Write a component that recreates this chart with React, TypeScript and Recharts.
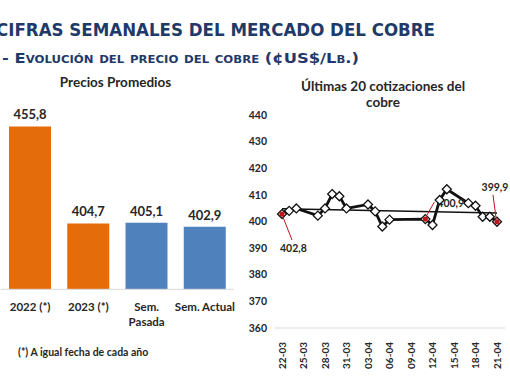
import React from "react";
import { BarChart, Bar, XAxis, YAxis, LabelList, Cell, LineChart, Line } from "recharts";

const barCategories = ["2022 (*)", "2023 (*)", "Sem.\nPasada", "Sem. Actual"];
const barValues = [455.8, 404.7, 405.1, 402.9];
const barColors = ["#E46C0A", "#E46C0A", "#4F81BD", "#4F81BD"];

const quoteDates = [
  "22-03", "23-03", "24-03", "27-03", "28-03", "29-03", "30-03", "31-03", "03-04", "04-04", "05-04",
  "06-04", "11-04", "12-04", "13-04", "14-04", "17-04", "18-04", "19-04", "20-04", "21-04",
];
const quoteValues = [
  402.8, 404.0, 404.9, 402.2, 404.9, 410.3, 409.5, 404.9, 406.4, 403.8, 398.1,
  400.7, 400.9, 398.7, 408.1, 412.1, 406.9, 405.9, 401.8, 401.8, 399.9,
];
const trendDates = ["22-03", "21-04"];
const trendValues = [404.8, 403.2];
const dateTicks = ["22-03", "25-03", "28-03", "31-03", "03-04", "06-04", "09-04", "12-04", "15-04", "18-04", "21-04"];
const priceTicks = [360, 370, 380, 390, 400, 410, 420, 430, 440];

const YEAR = 2023;
const toTime = (s: string) => {
  const [d, m] = s.split("-").map(Number);
  return Date.UTC(YEAR, m - 1, d);
};
const fmtDate = (t: number) => {
  const d = new Date(t);
  return String(d.getUTCDate()).padStart(2, "0") + "-" + String(d.getUTCMonth() + 1).padStart(2, "0");
};
const fmtNum = (v: number) => v.toFixed(1).replace(".", ",");

const NAVY = "#1F3A68";
const TXT = "#262626";
const FONT = "Lato, 'Open Sans', sans-serif";

const barData = barCategories.map((c, i) => ({ name: c, value: barValues[i] }));
const quoteData = quoteDates.map((d, i) => ({ t: toTime(d), v: quoteValues[i] }));
const trendData = trendDates.map((d, i) => ({ t: toTime(d), v: trendValues[i] }));

// callouts on a few points: leader line + value text
const callouts: Record<number, { x1: number; y1: number; x2: number; y2: number; lx: number; ly: number; anchor: string }> = {
  0: { x1: 1, y1: 3, x2: 10, y2: 26, lx: -2, ly: 38, anchor: "start" },
  12: { x1: 1, y1: -3, x2: 9, y2: -17, lx: 12, ly: -12, anchor: "start" },
  20: { x1: -1, y1: -4, x2: -4, y2: -27, lx: -2, ly: -31, anchor: "middle" },
};

const CatTick = (props: any) => {
  const { x, y, payload } = props;
  const lines = String(payload.value).split("\n");
  return (
    <g>
      {lines.map((l, i) => (
        <text key={i} x={x} y={y + 14 + i * 15} textAnchor="middle" fontFamily={FONT} fontWeight={700} fontSize={11.5} fill={TXT}>
          {l}
        </text>
      ))}
    </g>
  );
};

const DateTick = (props: any) => {
  const { x, y, payload } = props;
  return (
    <text x={x} y={y} transform={`rotate(-90 ${x} ${y})`} dx={-6} dy={3.5} textAnchor="end" fontFamily={FONT} fontWeight={700} fontSize={10} fill={TXT}>
      {fmtDate(payload.value)}
    </text>
  );
};

const Diamond = (props: any) => {
  const { cx, cy, index, value } = props;
  const r = 4.5;
  const c = callouts[index];
  const v = Array.isArray(value) ? value[1] : value;
  return (
    <g key={`d${index}`}>
      <path d={`M${cx},${cy - r}L${cx + r},${cy}L${cx},${cy + r}L${cx - r},${cy}Z`} fill="#fff" stroke="#111" strokeWidth={1.3} />
      {c && (
        <>
          <circle cx={cx} cy={cy} r={2.6} fill="#C0141E" />
          <line x1={cx + c.x1} y1={cy + c.y1} x2={cx + c.x2} y2={cy + c.y2} stroke="#C0141E" strokeWidth={1} />
          <text x={cx + c.lx} y={cy + c.ly} textAnchor={c.anchor as any} fontFamily={FONT} fontWeight={700} fontSize={10.5} fill={TXT}>
            {fmtNum(v)}
          </text>
        </>
      )}
    </g>
  );
};

export default function App() {
  return (
    <div style={{ position: "absolute", left: 0, top: 0, width: 510, height: 382, overflow: "hidden", background: "#fff" }}>
      <svg width={510} height={382} style={{ position: "absolute", left: 0, top: 0 }}>
        <text x={-4} y={36} fontFamily="'DejaVu Sans', Verdana, sans-serif" fontWeight={700} fontSize={18} fill={NAVY} textLength={439} lengthAdjust="spacingAndGlyphs">
          CIFRAS SEMANALES DEL MERCADO DEL COBRE
        </text>
        <text x={2} y={63} fontFamily="'DejaVu Sans', Verdana, sans-serif" fontWeight={700} fontSize={14} fill={NAVY} style={{ fontVariant: "small-caps" }} textLength={357} lengthAdjust="spacingAndGlyphs">
          - Evolución del precio del cobre (¢US$/Lb.)
        </text>
        <text x={115.5} y={87} textAnchor="middle" fontFamily={FONT} fontWeight={700} fontSize={13.5} fill={TXT}>
          Precios Promedios
        </text>
        <text x={383} y={91} textAnchor="middle" fontFamily={FONT} fontWeight={700} fontSize={13.5} fill={TXT}>
          Últimas 20 cotizaciones del
        </text>
        <text x={383} y={107} textAnchor="middle" fontFamily={FONT} fontWeight={700} fontSize={13.5} fill={TXT}>
          cobre
        </text>
        <text x={18} y={356} fontFamily={FONT} fontWeight={700} fontSize={10.5} fill={TXT}>
          (*) A igual fecha de cada año
        </text>
      </svg>

      <div style={{ position: "absolute", left: 0, top: 0 }}>
        <BarChart width={240} height={340} data={barData} margin={{ top: 118.5, right: 6, left: 1, bottom: 10.7 }} barSize={42}>
          <XAxis dataKey="name" axisLine={{ stroke: "#D9D9D9" }} tickLine={false} interval={0} tick={<CatTick />} height={40} />
          <YAxis hide domain={[370, 460]} />
          <Bar dataKey="value" isAnimationActive={false}>
            {barData.map((_, i) => (
              <Cell key={i} fill={barColors[i]} />
            ))}
            <LabelList dataKey="value" position="top" offset={7} formatter={(v: any) => fmtNum(Number(v))} style={{ fontFamily: FONT, fontWeight: 700, fontSize: 13, fill: TXT }} />
          </Bar>
        </BarChart>
      </div>

      <div style={{ position: "absolute", left: 240, top: 100 }}>
        <LineChart width={270} height={270} margin={{ top: 15, right: 5, left: 0, bottom: 2 }}>
          <XAxis
            dataKey="t"
            type="number"
            scale="time"
            domain={[toTime(dateTicks[0]), toTime(dateTicks[dateTicks.length - 1])]}
            ticks={dateTicks.map(toTime)}
            padding={{ left: 7, right: 8 }}
            axisLine={{ stroke: "#D9D9D9" }}
            tickLine={false}
            interval={0}
            height={40}
            tick={<DateTick />}
            allowDuplicatedCategory={false}
          />
          <YAxis
            type="number"
            domain={[360, 440]}
            ticks={priceTicks}
            width={35}
            axisLine={false}
            tickLine={false}
            tick={{ fontFamily: FONT, fontWeight: 700, fontSize: 10.5, fill: TXT }}
          />
          <Line data={trendData} dataKey="v" stroke="#111" strokeWidth={1.4} dot={false} isAnimationActive={false} />
          <Line data={quoteData} dataKey="v" stroke="#111" strokeWidth={2.8} dot={<Diamond />} isAnimationActive={false} />
        </LineChart>
      </div>
    </div>
  );
}
